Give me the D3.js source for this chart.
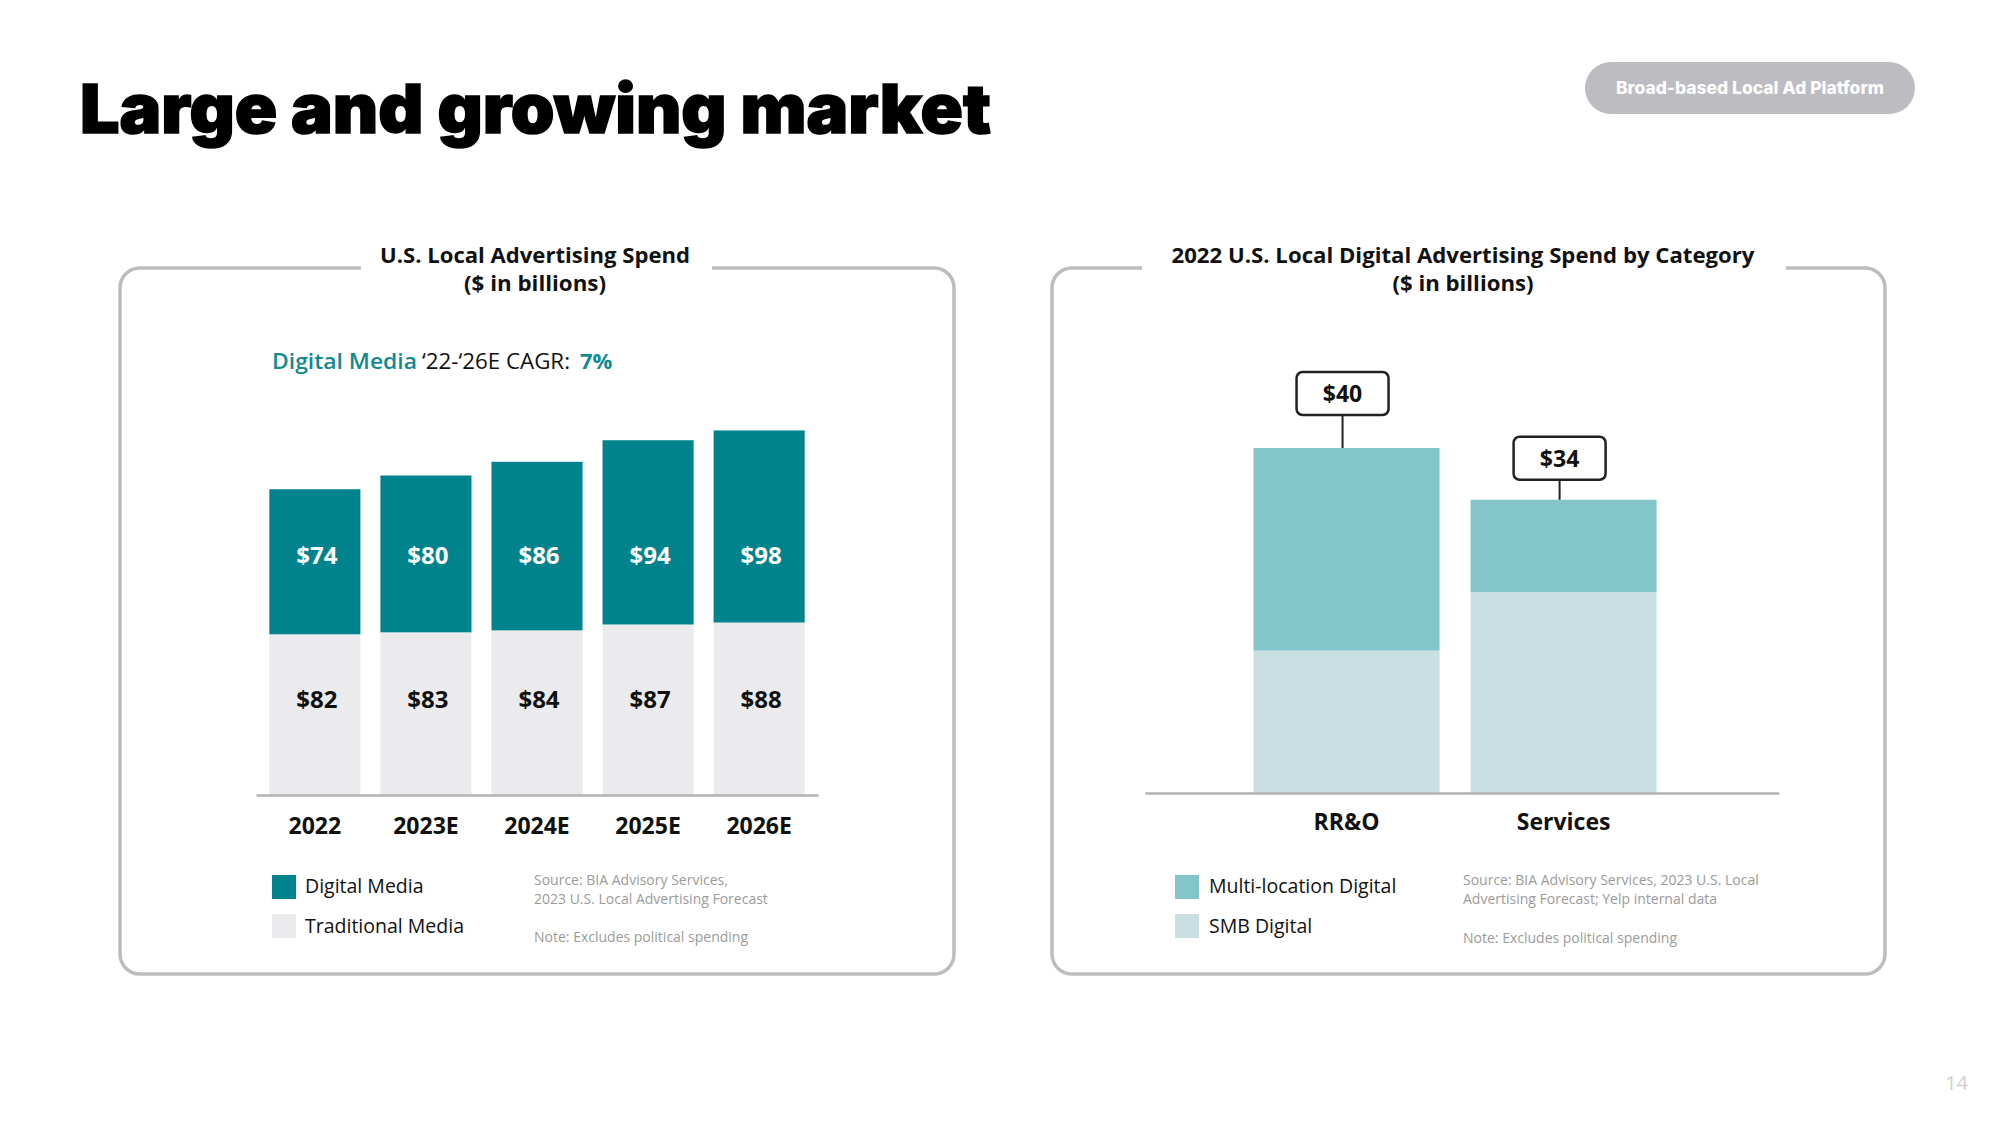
<!DOCTYPE html>
<html>
<head>
<meta charset="utf-8">
<script src="https://cdn.jsdelivr.net/npm/d3@7"></script>
<style>
  html, body { margin: 0; padding: 0; background: #fff; }
  svg { display: block; }
  text { font-family: "Open Sans", "Noto Sans", sans-serif; }
</style>
</head>
<body>
<svg id="chart" width="2000" height="1125"></svg>
<script>
// ---------- DATA ----------
const years = ["2022", "2023E", "2024E", "2025E", "2026E"];
const digitalMedia = [74, 80, 86, 94, 98];
const traditionalMedia = [82, 83, 84, 87, 88];

const categories = ["RR&O", "Services"];
const smbDigital = [16.5, 23.3];
const multiLocationDigital = [23.5, 10.7];
const categoryTotals = [40, 34];

// ---------- STYLE ----------
const C = {
  teal: "#00838C",
  trad: "#EBEBED",
  multi: "#83C5CB",
  smb: "#CADFE2",
  axis: "#b3b3b3",
  frame: "#bdbdbd",
  note: "#9b9b9b",
  ink: "#111"
};

const svg = d3.select("#chart");

// Title
svg.append("text")
  .attr("x", 80).attr("y", 133)
  .attr("textLength", 911).attr("lengthAdjust", "spacingAndGlyphs")
  .style("font-family", "Inter, Lato, sans-serif")
  .style("font-weight", 900).style("font-size", "68px")
  .attr("fill", "#000").attr("stroke", "#000").attr("stroke-width", 1.5)
  .text("Large and growing market");

// Badge
svg.append("rect")
  .attr("x", 1585).attr("y", 62).attr("width", 330).attr("height", 52)
  .attr("rx", 26).attr("fill", "#bcbcc1");
svg.append("text")
  .attr("x", 1750).attr("y", 94).attr("text-anchor", "middle")
  .attr("textLength", 268).attr("lengthAdjust", "spacingAndGlyphs")
  .style("font-family", "Inter, Lato, sans-serif")
  .style("font-weight", 800).style("font-size", "17px")
  .attr("fill", "#fff")
  .text("Broad-based Local Ad Platform");

// Page number
svg.append("text")
  .attr("x", 1968).attr("y", 1090).attr("text-anchor", "end")
  .style("font-size", "20px").attr("fill", "#cfcfcf")
  .text("14");

// Frame with a gap for the title
function frame(x0, y0, x1, y1, g0, g1, r) {
  const p = d3.path();
  p.moveTo(g1, y0);
  p.lineTo(x1 - r, y0);
  p.arcTo(x1, y0, x1, y0 + r, r);
  p.lineTo(x1, y1 - r);
  p.arcTo(x1, y1, x1 - r, y1, r);
  p.lineTo(x0 + r, y1);
  p.arcTo(x0, y1, x0, y1 - r, r);
  p.lineTo(x0, y0 + r);
  p.arcTo(x0, y0, x0 + r, y0, r);
  p.lineTo(g0, y0);
  svg.append("path").attr("d", p.toString())
    .attr("fill", "none").attr("stroke", C.frame).attr("stroke-width", 3.5);
}
frame(120, 268, 954, 974, 361, 712, 20);
frame(1052, 268, 1885, 974, 1142, 1786, 20);

function boxTitle(cx, lines, lens) {
  lines.forEach((t, i) => {
    svg.append("text")
      .attr("x", cx).attr("y", 263 + i * 28).attr("text-anchor", "middle")
      .attr("textLength", lens[i]).attr("lengthAdjust", "spacingAndGlyphs")
      .style("font-weight", 700).style("font-size", "21px").attr("fill", C.ink)
      .text(t);
  });
}
boxTitle(535, ["U.S. Local Advertising Spend", "($ in billions)"], [310, 142]);
boxTitle(1463, ["2022 U.S. Local Digital Advertising Spend by Category", "($ in billions)"], [583, 141]);

// CAGR line
svg.append("text").attr("x", 272).attr("y", 369)
  .attr("textLength", 145).attr("lengthAdjust", "spacingAndGlyphs")
  .style("font-weight", 600).style("font-size", "22px").attr("fill", "#128a92")
  .text("Digital Media");
svg.append("text").attr("x", 422).attr("y", 369)
  .attr("textLength", 148).attr("lengthAdjust", "spacingAndGlyphs")
  .style("font-weight", 400).style("font-size", "22px").attr("fill", C.ink)
  .text("\u201822-\u201826E CAGR:");
svg.append("text").attr("x", 580).attr("y", 369)
  .style("font-weight", 700).style("font-size", "22px").attr("fill", "#128a92")
  .text("7%");

// ---------- LEFT CHART ----------
const x = d3.scaleBand().domain(years).range([256, 818])
  .paddingInner(0.18).paddingOuter(0.12);
const y = d3.scaleLinear().domain([0, 200]).range([795, 403]);

const leftRows = years.map((yr, i) => ({ yr, d: digitalMedia[i], t: traditionalMedia[i] }));
const gL = svg.append("g");

gL.selectAll("rect.trad").data(leftRows).join("rect")
  .attr("class", "trad")
  .attr("x", r => x(r.yr)).attr("width", x.bandwidth())
  .attr("y", r => y(r.t)).attr("height", r => y(0) - y(r.t))
  .attr("fill", C.trad);
gL.selectAll("rect.dig").data(leftRows).join("rect")
  .attr("class", "dig")
  .attr("x", r => x(r.yr)).attr("width", x.bandwidth())
  .attr("y", r => y(r.t + r.d)).attr("height", r => y(r.t) - y(r.t + r.d))
  .attr("fill", C.teal);

gL.selectAll("text.dlab").data(leftRows).join("text")
  .attr("class", "dlab")
  .attr("x", r => x(r.yr) + x.bandwidth() / 2 + 2).attr("y", 564)
  .attr("text-anchor", "middle")
  .style("font-weight", 700).style("font-size", "24px").attr("fill", "#fff")
  .text(r => "$" + r.d);
gL.selectAll("text.tlab").data(leftRows).join("text")
  .attr("class", "tlab")
  .attr("x", r => x(r.yr) + x.bandwidth() / 2 + 2).attr("y", 708)
  .attr("text-anchor", "middle")
  .style("font-weight", 700).style("font-size", "24px").attr("fill", C.ink)
  .text(r => "$" + r.t);

const axL = svg.append("g").attr("transform", `translate(0,${y(0)})`)
  .call(d3.axisBottom(x).tickSize(0).tickPadding(23));
axL.select(".domain").attr("stroke", C.axis).attr("stroke-width", 2.5);
axL.selectAll("text").style("font-family", "'Open Sans', sans-serif")
  .style("font-weight", 700).style("font-size", "23px").attr("fill", C.ink);

// left legend
const legL = [{ c: C.teal, t: "Digital Media" }, { c: C.trad, t: "Traditional Media" }];
legL.forEach((l, i) => {
  svg.append("rect").attr("x", 272).attr("y", 875 + i * 39).attr("width", 24).attr("height", 24).attr("fill", l.c);
  svg.append("text").attr("x", 305).attr("y", 893 + i * 40)
    .style("font-size", "19.5px").attr("fill", C.ink).text(l.t);
});
[["Source: BIA Advisory Services,", 885], ["2023 U.S. Local Advertising Forecast", 904], ["Note: Excludes political spending", 942]]
  .forEach(([t, yy]) => svg.append("text").attr("x", 534).attr("y", yy)
    .style("font-size", "14px").attr("fill", C.note).text(t));

// ---------- RIGHT CHART ----------
const xr = d3.scaleBand().domain(categories).range([1145, 1779])
  .paddingInner(0.143).paddingOuter(0.532).align(0.47);
const yr = d3.scaleLinear().domain([0, 40]).range([793, 448]);

const rightRows = categories.map((c, i) => ({ c, s: smbDigital[i], m: multiLocationDigital[i], tot: categoryTotals[i] }));
const gR = svg.append("g");
gR.selectAll("rect.smb").data(rightRows).join("rect")
  .attr("class", "smb")
  .attr("x", r => xr(r.c)).attr("width", xr.bandwidth())
  .attr("y", r => yr(r.s)).attr("height", r => yr(0) - yr(r.s))
  .attr("fill", C.smb);
gR.selectAll("rect.multi").data(rightRows).join("rect")
  .attr("class", "multi")
  .attr("x", r => xr(r.c)).attr("width", xr.bandwidth())
  .attr("y", r => yr(r.s + r.m)).attr("height", r => yr(r.s) - yr(r.s + r.m))
  .attr("fill", C.multi);

// callouts
const calloutGap = [33, 20];
rightRows.forEach((r, i) => {
  const cx = xr(r.c) + xr.bandwidth() / 2 - 4;
  const top = yr(r.s + r.m);
  const bb = top - calloutGap[i];
  svg.append("line").attr("x1", cx).attr("x2", cx).attr("y1", bb).attr("y2", top)
    .attr("stroke", "#222").attr("stroke-width", 2);
  svg.append("rect").attr("x", cx - 46).attr("y", bb - 43).attr("width", 92).attr("height", 43)
    .attr("rx", 6).attr("fill", "#fff").attr("stroke", "#222").attr("stroke-width", 2.5);
  svg.append("text").attr("x", cx).attr("y", bb - 13).attr("text-anchor", "middle")
    .style("font-weight", 700).style("font-size", "23px").attr("fill", C.ink)
    .text("$" + r.tot);
});

const axR = svg.append("g").attr("transform", `translate(0,${yr(0)})`)
  .call(d3.axisBottom(xr).tickSize(0).tickPadding(21));
axR.select(".domain").attr("stroke", C.axis).attr("stroke-width", 2.5);
axR.selectAll("text").style("font-family", "'Open Sans', sans-serif")
  .style("font-weight", 700).style("font-size", "23px").attr("fill", C.ink);

const legR = [{ c: C.multi, t: "Multi-location Digital" }, { c: C.smb, t: "SMB Digital" }];
legR.forEach((l, i) => {
  svg.append("rect").attr("x", 1175).attr("y", 875 + i * 39).attr("width", 24).attr("height", 24).attr("fill", l.c);
  svg.append("text").attr("x", 1209).attr("y", 893 + i * 40)
    .style("font-size", "19.5px").attr("fill", C.ink).text(l.t);
});
[["Source: BIA Advisory Services, 2023 U.S. Local", 885], ["Advertising Forecast; Yelp internal data", 904], ["Note: Excludes political spending", 943]]
  .forEach(([t, yy]) => svg.append("text").attr("x", 1463).attr("y", yy)
    .style("font-size", "14px").attr("fill", C.note).text(t));
</script>
</body>
</html>
